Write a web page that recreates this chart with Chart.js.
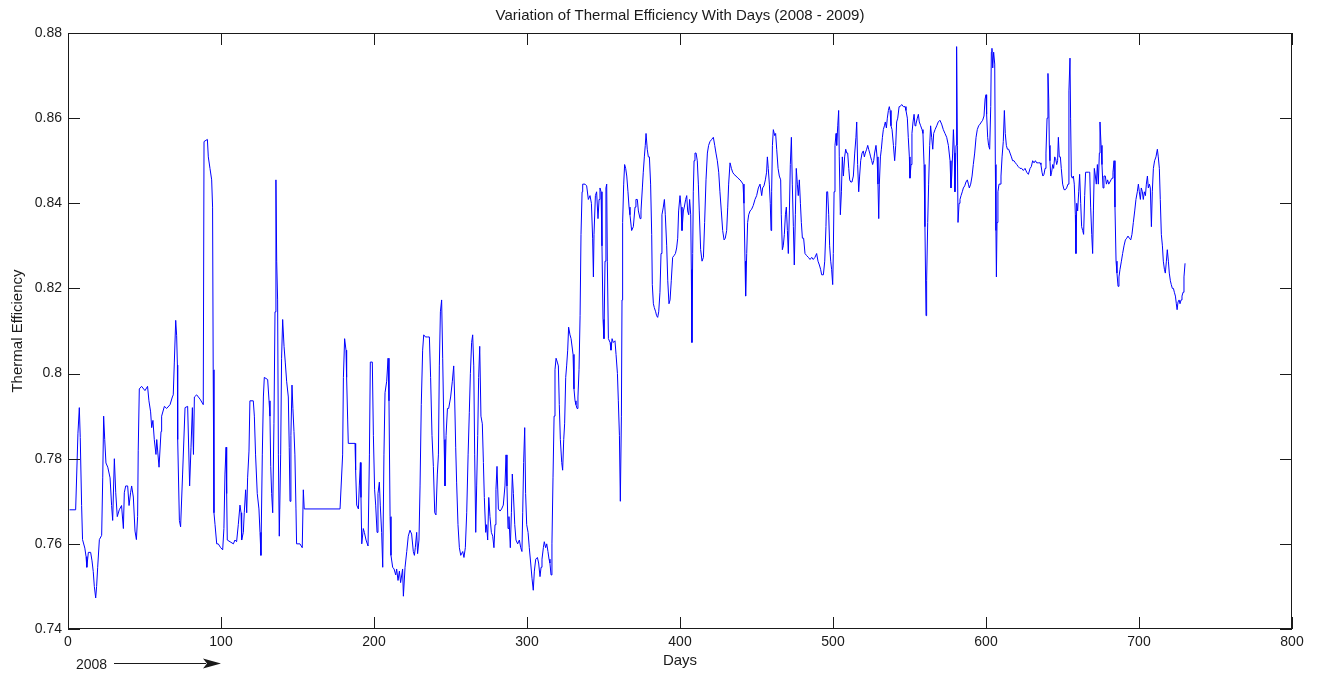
<!DOCTYPE html>
<html>
<head>
<meta charset="utf-8">
<script src="https://cdn.jsdelivr.net/npm/chart.js@4.4.1/dist/chart.umd.min.js"></script>
<style>
html, body { margin: 0; padding: 0; background: #fff; }
#wrap { width: 1317px; height: 673px; position: relative; }
</style>
</head>
<body>
<div id="wrap"><canvas id="effChart"></canvas></div>
<script>
// readings taken off the plot: [day, thermal efficiency]
const readings2008a = [
  [1,0.768],[5,0.768],[6.5,0.786],[7.4,0.792],[8,0.785],[8.9,0.769],[9.5,0.761],[11,0.759],[11.8,0.757],[12.3,0.7545],
  [13.3,0.758],[14.8,0.758],[15.7,0.756],[16.5,0.7535],[17.2,0.750],[18.1,0.7473],[18.7,0.750],[19.4,0.7545],[20.5,0.761],[22,0.762],
  [22.7,0.7755],[23.3,0.790],[24,0.7845],[24.8,0.779],[26,0.778],[27.5,0.7755],[28.5,0.769],[29.2,0.7655],[30.3,0.780],[31.2,0.772],
  [32.2,0.7664],[33.5,0.768],[35,0.769],[36.2,0.7636],[36.8,0.772],[37.7,0.7736],[39,0.7736],[39.9,0.769],[40.9,0.772],[41.6,0.7736],
  [42.7,0.771],[43.8,0.763],[44.7,0.761],[45.5,0.7664],[45.9,0.782],[46.6,0.7964],[48.1,0.797],[50.3,0.796],[52,0.797],[52.9,0.7936],
  [54,0.791],[54.7,0.7873],[55.5,0.789],[56.4,0.7845],[57.5,0.781],[58,0.7845],[59.5,0.778],[60.8,0.7864],[61.2,0.790],[63,0.7923],
  [64.5,0.7918],[66.7,0.7927],[68.2,0.7945],[68.8,0.795],[69.5,0.8027],[70.4,0.8125],[71,0.809],[71.5,0.802],[71.7,0.7845],[72.8,0.7655],
  [73.6,0.764],[74.9,0.7764],[76.5,0.792],[78.2,0.7923],[79.5,0.7736],[80.4,0.7827],[81.3,0.792],[82,0.781],[82.6,0.7945],[84.1,0.795],
  [86.3,0.794],[88.4,0.7927],[88.9,0.8545],[91.1,0.855],[91.7,0.8509],[92.8,0.8482],[93.9,0.8455],[94.5,0.8391],[94.9,0.8009],[95.4,0.7673],
  [96.1,0.7645],[97.2,0.760],[98.2,0.760],[99.8,0.7591],[101.1,0.7586],[101.9,0.7636],[102.6,0.7764],[103.3,0.7827],[103.7,0.7718],[104.1,0.7609],
  [105.9,0.7605],[108.1,0.760],[109.1,0.7609],[110.2,0.7605],[111.3,0.7645],[112.4,0.7691],[113.1,0.7673],[113.5,0.7609],[114.6,0.7627],[115.2,0.7673],
  [116.1,0.7727],[116.8,0.7673],[117.4,0.7755],[118.3,0.7818],[118.9,0.7936],[121.1,0.7936],[121.8,0.790],[122.6,0.7809],[123.7,0.7718],[124.8,0.7682],
  [125.5,0.7627],[126.1,0.7573],[127.0,0.7809],[127.7,0.7945],[128.3,0.7991],[130.5,0.7986],[131.4,0.7936],[132.0,0.790],[132.5,0.7782],[133.1,0.7718],
  [133.8,0.7673],[134.6,0.7882],[135.3,0.8145],[135.9,0.8455],[136.4,0.8264],[137.0,0.8173],[137.5,0.7809],[138.1,0.7618],[139.0,0.7809],[139.6,0.8036],
  [140.3,0.8127],[141.2,0.8064],[142.0,0.8027],[142.9,0.7982],[144.0,0.7945],[144.6,0.7827],[145.1,0.770],[145.7,0.7855],[146.4,0.7973],[147.0,0.7918],
  [147.7,0.7864],[148.3,0.7809],[149.0,0.7682],[149.4,0.760],[151.6,0.760],[153.1,0.7591],[153.8,0.7727],[154.4,0.7682],[177.8,0.7682]
]

const readings2008b = [
  [178.4,0.7682],[179.5,0.7809],[180.0,0.7991],[180.8,0.8082],[181.7,0.8055],[182.1,0.7991],[182.8,0.7891],[183.2,0.7836],[187.6,0.7836],[188.0,0.7773],
  [188.7,0.7691],[189.8,0.7682],[190.4,0.7736],[191.1,0.7791],[191.5,0.7709],[192.0,0.760],[193.0,0.7636],[193.7,0.7627],[194.8,0.7609],[196.1,0.7595],
  [197.0,0.7809],[197.6,0.8027],[198.9,0.8027],[199.6,0.7855],[200.4,0.7727],[201.1,0.7691],[202.0,0.7627],[202.6,0.7718],[203.5,0.7745],[204.1,0.7691],
  [205.0,0.7627],[205.7,0.7545],[206.5,0.7809],[207.2,0.7955],[208.3,0.7982],[209.2,0.8036],[209.8,0.7936],[210.5,0.7664],[211.1,0.7573],[212.2,0.7545],
  [213.1,0.7541],[214.2,0.7527],[214.8,0.7541],[215.7,0.7514],[216.6,0.7536],[217.4,0.7509],[218.7,0.7541],[219.2,0.7477],[220.3,0.7545],[221.4,0.7582],
  [222.4,0.7618],[223.5,0.7632],[224.6,0.7623],[225.7,0.7582],[226.4,0.7573],[227.0,0.7591],[227.9,0.7627],[228.5,0.7577],[229.4,0.7609],[230.1,0.7736],
  [230.9,0.7927],[231.8,0.8055],[232.5,0.8091],[233.6,0.8086],[234.9,0.8086],[236.2,0.8086],[237.0,0.7991],[237.9,0.7855],[238.8,0.7782],[239.7,0.7673],
  [240.5,0.7668],[241.4,0.7764],[242.1,0.7809],[242.7,0.8018],[243.4,0.8145],[244.2,0.8173],[244.9,0.8036],[245.8,0.7845],[246.4,0.7736],[247.1,0.7855],
  [248.0,0.7918],[248.8,0.7918],[250.1,0.7945],[251.2,0.7982],[252.1,0.8018],[252.7,0.7945],[253.4,0.7827],[254.0,0.7745],[254.9,0.7645],[255.8,0.7591],
  [256.7,0.7573],[258.0,0.7582],[258.8,0.7568],[259.7,0.7591],[260.6,0.7673],[261.5,0.7809],[262.3,0.7909],[263.0,0.800],[263.8,0.8073],[264.5,0.8091],
  [265.2,0.8018],[265.8,0.7809],[266.5,0.7627],[267.1,0.7736],[267.8,0.7855],[268.4,0.7991],[269.1,0.8064],[269.9,0.790],[270.8,0.7882],[271.5,0.7791],
  [272.1,0.7709],[273.0,0.7627],[273.6,0.7645],[274.3,0.7609],[275.0,0.7709],[275.8,0.7664],[276.7,0.7627],[277.6,0.7618],[278.4,0.7591],[279.1,0.7645],
  [279.7,0.7727],[280.4,0.7782],[281.3,0.7682],[282.4,0.7677],[283.4,0.7682],[284.5,0.7691],[285.6,0.7736],[286.3,0.7809],[286.9,0.7736],[287.6,0.7636],
  [288.2,0.7664],[289.1,0.7591],[289.8,0.7673],[290.4,0.7764],[291.1,0.7718],[292.0,0.7645],[292.8,0.7609],[293.9,0.760],[295.0,0.7609],[295.9,0.7591],
  [296.7,0.7582],[297.2,0.7673],[297.8,0.7791],[298.5,0.7873],[299.1,0.7718],[299.8,0.7645],[300.7,0.7627],[301.5,0.7591],[302.4,0.7555],[303.3,0.7518],
  [304.1,0.7491],[304.8,0.7536],[305.7,0.7564],[306.8,0.7568],[307.6,0.7555],[308.5,0.7523],[309.2,0.7545],[309.8,0.7564],[310.7,0.7591],[311.3,0.7605],
  [312.2,0.7591],[312.9,0.760],[313.7,0.7582],[314.4,0.7564],[315.0,0.7555],[315.7,0.7527],[316.3,0.760],[317.0,0.7755],[317.7,0.790],[318.3,0.8009],
  [319.0,0.8036],[319.8,0.8027],[320.5,0.8018],[321.1,0.7927],[321.8,0.7845],[322.7,0.7791],[323.3,0.7773],[324.0,0.7845],[324.6,0.7882],[325.3,0.7991],
  [325.9,0.8018],[326.6,0.8055],[327.2,0.8109],[328.1,0.8091],[328.8,0.8082],[329.4,0.8082],[330.1,0.8045],[330.7,0.7964],[331.4,0.7936],[332.0,0.7927],
  [332.7,0.7918],[333.3,0.7945],[334.0,0.8009],[334.7,0.8136],[335.3,0.8327],[336.0,0.8427],[336.4,0.8445],[337.9,0.8445],[339.0,0.8441],[340.1,0.8409],
  [341.2,0.8418],[342.1,0.840],[342.9,0.8318],[343.4,0.8227],[343.8,0.8327],[344.7,0.8418],[345.5,0.8427],[346.4,0.8364],[347.1,0.8409],[347.7,0.8436],
  [348.4,0.8427],[349.0,0.830],[349.7,0.8127],[350.3,0.8082],[351.0,0.8264],[351.6,0.8436],[352.1,0.8445],[352.5,0.8264],[353.2,0.8082],[354.3,0.8073],
  [354.9,0.8055],[355.6,0.8082],[356.4,0.8073],[357.5,0.8077],[358.2,0.8045],[359.1,0.800],[359.7,0.7936],[360.4,0.7855],[361.0,0.770],[361.7,0.790],
  [362.1,0.8173],[362.5,0.8355],[363.2,0.8445],[363.8,0.8491],[364.5,0.8482],[365.2,0.8464]
]

const readings2009a = [
  [366.0,0.8427],[366.7,0.8391],[367.3,0.8373],[368.4,0.8336],[369.5,0.8345],[370.6,0.8391],[371.2,0.8409],[372.1,0.8409],[372.8,0.8382],[373.9,0.8364],
  [374.5,0.8382],[375.4,0.8436],[376.0,0.8473],[376.7,0.8509],[377.3,0.8536],[377.8,0.8564],[378.6,0.8527],[379.3,0.8509],[380.0,0.8509],[380.8,0.8445],
  [381.5,0.8327],[381.9,0.8209],[382.6,0.8164],[383.2,0.8155],[384.1,0.8145],[384.7,0.8136],[385.4,0.8132],[386.1,0.8145],[386.9,0.8191],[387.6,0.8282],
  [388.2,0.8373],[389.1,0.8391],[389.8,0.8409],[390.4,0.8373],[391.3,0.830],[392.0,0.8218],[392.8,0.8164],[393.5,0.8173],[394.3,0.8218],[395.2,0.8273],
  [396.1,0.8277],[397.0,0.8282],[397.8,0.8295],[398.5,0.8318],[399.1,0.8382],[400.0,0.8418],[400.7,0.8391],[401.3,0.8336],[402.2,0.8382],[402.8,0.8391],
  [403.7,0.8409],[404.4,0.8418],[405.0,0.8382],[405.7,0.8373],[406.3,0.8409],[407.0,0.8373],[407.4,0.8245],[407.8,0.8073],[408.3,0.8282],[408.7,0.8427],
  [409.2,0.850],[409.8,0.8518],[410.5,0.8518],[411.3,0.850],[412.0,0.8445],[412.6,0.8382],[413.5,0.8291],[414.4,0.8264],[415.3,0.8273],[416.1,0.8355],
  [417.0,0.8455],[417.9,0.8518],[418.7,0.8536],[419.6,0.8545],[420.7,0.855],[421.8,0.8555],[422.7,0.8536],[423.5,0.8518],[424.4,0.850],[425.3,0.8473],
  [426.1,0.8427],[427.0,0.8382],[427.9,0.8336],[428.8,0.8314],[429.6,0.8318],[430.5,0.8336],[431.2,0.8391],[431.8,0.8445],[432.7,0.8495],[433.6,0.8482],
  [434.4,0.8473],[435.3,0.8468],[436.6,0.8464],[437.9,0.8459],[439.2,0.8455],[440.3,0.845],[441.2,0.8445],[441.8,0.840],[442.5,0.8264],[442.9,0.8182],
  [443.6,0.8282],[444.2,0.8355],[444.9,0.8373],[445.8,0.8382],[446.8,0.8386],[447.9,0.8395],[449.0,0.8409],[450.1,0.8418],[451.2,0.8436],[452.3,0.8445],
  [453.4,0.8418],[454.0,0.8436],[454.9,0.8441],[455.8,0.8455],[456.6,0.8473],[457.1,0.8509],[457.7,0.8482],[458.4,0.8445],[459.0,0.840],[459.5,0.8336],
  [459.9,0.8427],[460.4,0.8536],[461.0,0.8573],[461.9,0.8559],[462.5,0.8564],[463.2,0.8527],[464.1,0.8482],[464.9,0.8464],[465.8,0.8455],[466.2,0.8373],
  [466.9,0.8291],[467.5,0.830],[468.2,0.8327],[468.9,0.8373],[469.5,0.8391],[470.2,0.8336],[470.8,0.8282],[471.5,0.8382],[472.1,0.8491],[472.8,0.8555],
  [473.4,0.8445],[474.1,0.8345],[474.7,0.8255],[475.4,0.8373],[476.0,0.8482],[476.7,0.8445],[477.3,0.8418],[478.0,0.8455],[478.7,0.840],[479.3,0.8355],
  [480.0,0.8318],[480.8,0.8318],[481.7,0.8282],[482.8,0.8277],[483.9,0.8273],[485.0,0.8268],[486.1,0.8273],[487.1,0.8268],[488.2,0.8273],[489.3,0.8282],
  [490.2,0.8264],[491.1,0.8255],[491.9,0.8245],[492.6,0.8232],[493.7,0.8232],[494.6,0.8264],[495.4,0.8345],[495.9,0.8427],[496.5,0.8427],[497.2,0.8373],
  [497.8,0.830],[498.5,0.8264],[499.1,0.8245],[499.8,0.8209],[500.2,0.8282],[500.7,0.8427],[501.3,0.8536],[502.0,0.8564],[502.4,0.8536],[503.1,0.8582],
  [503.7,0.8618],[504.1,0.8509],[504.8,0.8373],[505.5,0.8427],[506.1,0.8509],[506.8,0.8464],[507.6,0.8509],[508.3,0.8527],[509.0,0.8518],[509.6,0.8518],
  [510.3,0.8482],[510.9,0.8455],[511.6,0.845],[512.4,0.845],[513.3,0.8464],[514.2,0.8518],[515.0,0.8555],[515.5,0.8591],[516.1,0.8491],[516.8,0.8427],
  [517.4,0.8464],[518.1,0.850],[519.0,0.8518],[519.8,0.8523],[520.5,0.8509],[521.1,0.8518],[522.0,0.8527],[522.7,0.8536],[523.3,0.8527],[524.0,0.8518],
  [524.6,0.8509],[525.3,0.850],[525.9,0.8491],[526.6,0.850],[527.2,0.8518],[528.1,0.8536],[528.8,0.8509],[529.4,0.8445],[529.9,0.8364],[530.3,0.8445],
  [531.0,0.8509],[531.6,0.8527],[532.3,0.8555],[532.9,0.8573],[533.6,0.8582],[534.2,0.8591],[534.9,0.8577],[535.5,0.860],[536.2,0.8618],[536.8,0.8627],
  [537.3,0.8618],[537.9,0.8582],[538.6,0.8573],[539.5,0.8536],[540.3,0.850],[541.0,0.8536],[541.6,0.8591],[542.3,0.860],[543.2,0.8627]
]

const readings2009b = [
  [543.8,0.8627],[544.9,0.8632],[546.0,0.8627],[547.1,0.8627],[547.7,0.8618],[548.6,0.860],[549.2,0.8555],[549.9,0.8509],[550.3,0.8459],[551.0,0.8491],
  [551.6,0.8564],[552.3,0.8591],[553.0,0.8609],[553.6,0.8582],[554.2,0.8586],[555.1,0.860],[555.8,0.8609],[556.4,0.8591],[557.3,0.8582],[558.2,0.8573],
  [558.8,0.8564],[559.5,0.8491],[560.1,0.8345],[560.8,0.8136],[561.2,0.8218],[561.9,0.8355],[562.5,0.8445],[563.2,0.8536],[563.8,0.8582],[564.5,0.8555],
  [565.2,0.8527],[565.8,0.8564],[566.7,0.8573],[567.8,0.8582],[568.8,0.8591],[569.9,0.8595],[571.0,0.8586],[572.1,0.8573],[573.2,0.8564],[574.3,0.8555],
  [575.4,0.8536],[576.5,0.850],[577.1,0.8436],[577.6,0.8464],[578.2,0.8518],[578.7,0.8573],[579.3,0.8518],[579.7,0.8427],[580.4,0.8536],[580.8,0.8768],
  [581.3,0.8536],[581.7,0.8355],[582.4,0.840],[583.0,0.8409],[583.7,0.8418],[584.5,0.8427],[585.2,0.8436],[586.1,0.8441],[586.9,0.845],[587.8,0.8455],
  [588.5,0.8445],[589.1,0.8436],[590.0,0.8445],[590.9,0.8464],[591.7,0.8491],[592.6,0.8518],[593.5,0.8555],[594.3,0.8573],[595.2,0.8582],[596.1,0.8586],
  [597.0,0.8591],[597.8,0.8595],[598.7,0.8605],[599.4,0.8645],[600.0,0.8655],[600.4,0.8609],[601.1,0.8555],[601.7,0.8536],[602.4,0.8527],[603.1,0.8627],
  [603.5,0.8755],[603.9,0.8764],[604.4,0.8718],[605.0,0.8755],[605.7,0.8727],[606.1,0.8491],[606.5,0.8336],[606.8,0.8227],[607.2,0.8355],[607.8,0.8427],
  [608.5,0.8445],[609.2,0.8445],[609.8,0.8464],[610.5,0.8509],[611.3,0.8545],[612.0,0.8618],[612.6,0.8564],[613.3,0.8536],[614.0,0.8527],[614.8,0.8527],
  [615.7,0.8518],[616.6,0.8509],[617.4,0.850],[618.3,0.850],[619.2,0.8495],[620.1,0.8491],[621.1,0.8486],[622.2,0.8482],[623.3,0.8482],[624.4,0.8477],
  [625.5,0.8482],[626.6,0.8473],[627.7,0.8468],[628.8,0.8482],[629.6,0.8486],[630.5,0.850],[631.4,0.8495],[632.3,0.850],[633.1,0.8495],[634.2,0.8495],
  [635.3,0.8495],[635.9,0.8491],[636.6,0.8473],[637.2,0.8464],[637.9,0.8468],[638.6,0.8482],[639.2,0.8518],[639.9,0.860],[640.5,0.8705],[641.0,0.8645],
  [641.4,0.8536],[641.8,0.850],[642.3,0.8464],[642.9,0.8473],[643.6,0.8491],[644.2,0.8482],[644.9,0.8509],[645.5,0.8505],[646.2,0.8491],[646.8,0.850],
  [647.3,0.8555],[647.9,0.8509],[648.6,0.8509],[649.2,0.8482],[650.1,0.8445],[651.0,0.8432],[651.9,0.8432],[652.7,0.8436],[653.6,0.8445],[654.2,0.8664],
  [654.9,0.8741],[655.3,0.860],[655.8,0.8464],[656.4,0.8459],[657.1,0.8464],[657.7,0.8445],[658.4,0.8373],[658.8,0.8282],[659.3,0.840],[659.9,0.8382],
  [660.6,0.8427],[661.2,0.8468],[661.9,0.840],[662.5,0.8345],[663.2,0.8336],[663.8,0.8327],[664.5,0.8418],[665.1,0.8473],[666.0,0.8473],[666.9,0.8473],
  [667.8,0.8473],[668.4,0.8391],[669.1,0.8327],[669.7,0.8282],[670.2,0.8382],[670.8,0.8482],[671.5,0.8464],[672.1,0.8445],[672.8,0.8491],[673.4,0.8445],
  [674.1,0.8518],[674.5,0.8591],[675.2,0.8536],[675.8,0.8491],[676.5,0.8436],[677.1,0.8464],[678.0,0.8464],[678.7,0.8445],[679.5,0.8455],[680.2,0.8445],
  [681.0,0.845],[681.7,0.8455],[682.4,0.8459],[683.0,0.8473],[683.7,0.850],[684.3,0.8391],[685.0,0.8264],[685.6,0.8236],[686.3,0.8205],[686.9,0.8227],
  [687.6,0.8245],[688.5,0.8264],[689.3,0.8282],[690.2,0.830],[691.1,0.8314],[692.0,0.8318],[692.8,0.8323],[693.7,0.8318],[694.6,0.8314],[695.4,0.8327],
  [696.3,0.8355],[697.2,0.8382],[698.0,0.8409],[698.9,0.8427],[699.6,0.8445],[700.2,0.8427],[700.9,0.8409],[701.5,0.8436],[702.2,0.8427],[702.8,0.8409],
  [703.5,0.8427],[704.2,0.8418],[704.8,0.8445],[705.5,0.8464],[706.1,0.8436],[706.8,0.8445],[707.4,0.8436],[708.1,0.8345],[708.7,0.8427],[709.4,0.8482],
  [710.2,0.850],[711.1,0.8509],[712.0,0.8527],[712.6,0.8509],[713.3,0.8482],[713.9,0.8409],[714.6,0.8327],[715.3,0.830],[715.9,0.8264],[716.6,0.8245],
  [717.2,0.8236],[717.9,0.8264],[718.5,0.8291],[719.2,0.8264],[719.8,0.8236],[720.5,0.8218],[721.1,0.8209],[721.8,0.820],[722.5,0.820],[723.1,0.8191],
  [723.8,0.8182],[724.4,0.8164],[724.9,0.815],[725.5,0.8168],[726.2,0.8173],[726.8,0.8164],[727.5,0.8173],[728.1,0.8182],[728.8,0.8191],[729.4,0.8227],
  [730.1,0.8259]
]

const xTicks = [0, 100, 200, 300, 400, 500, 600, 700, 800]
const yTicks = [0.74, 0.76, 0.78, 0.8, 0.82, 0.84, 0.86, 0.88]

const titleText = 'Variation of Thermal Efficiency With Days (2008 - 2009)'
const xTitle = 'Days'
const yTitle = 'Thermal Efficiency'
const yearNote = '2008'

const allReadings = readings2008a.concat(readings2008b, readings2009a, readings2009b)
const chartData = {
    datasets: [{
        label: 'Thermal Efficiency',
        data: allReadings.map(r => ({x: r[0], y: r[1]})),
        borderColor: '#0000ff',
        borderWidth: 1,
        pointRadius: 0,
        tension: 0
    }]
}

const ink = '#1a1a1a'
const font = 'Arial, "Liberation Sans", Helvetica, sans-serif'

// frame, inward ticks on all sides, titles and the 2008 arrow, matlab style
const matlabFrame = {
    id: 'matlabFrame',
    afterDraw(chart) {
        const {ctx, chartArea: a, scales: {x, y}} = chart
        ctx.save()
        ctx.strokeStyle = ink
        ctx.lineWidth = 1
        ctx.strokeRect(a.left + 0.5, a.top + 0.5, a.right - a.left - 1, a.bottom - a.top - 1)

        ctx.beginPath()
        xTicks.forEach(v => {
            const px = Math.round(x.getPixelForValue(v)) + 0.5
            ctx.moveTo(px, a.bottom); ctx.lineTo(px, a.bottom - 12)
            ctx.moveTo(px, a.top); ctx.lineTo(px, a.top + 12)
        })
        yTicks.forEach(v => {
            const py = Math.round(y.getPixelForValue(v)) + 0.5
            ctx.moveTo(a.left, py); ctx.lineTo(a.left + 12, py)
            ctx.moveTo(a.right, py); ctx.lineTo(a.right - 12, py)
        })
        ctx.stroke()

        ctx.fillStyle = ink
        ctx.textAlign = 'center'
        ctx.textBaseline = 'middle'
        ctx.font = '15px ' + font
        ctx.fillText(titleText, (a.left + a.right) / 2, 16)
        ctx.fillText(xTitle, (a.left + a.right) / 2, 661)

        ctx.save()
        ctx.translate(18, (a.top + a.bottom) / 2)
        ctx.rotate(-Math.PI / 2)
        ctx.fillText(yTitle, 0, 0)
        ctx.restore()

        ctx.font = '14px ' + font
        ctx.textAlign = 'left'
        ctx.fillText(yearNote, 76, 665)
        ctx.beginPath()
        ctx.moveTo(114, 663.5); ctx.lineTo(206, 663.5)
        ctx.stroke()
        ctx.beginPath()
        ctx.moveTo(221, 663.5); ctx.lineTo(203, 658.5); ctx.lineTo(207, 663.5); ctx.lineTo(203, 668.5)
        ctx.closePath()
        ctx.fill()
        ctx.restore()
    }
}

const ctx = document.getElementById('effChart')
new Chart(ctx, {
    type: 'line',
    data: chartData,
    options: {
        responsive: true,
        maintainAspectRatio: false,
        devicePixelRatio: 1,
        animation: false,
        layout: {padding: {left: 0, top: 33, right: 25, bottom: 0}},
        plugins: {legend: {display: false}, tooltip: {enabled: false}},
        scales: {
            x: {
                type: 'linear',
                min: 0,
                max: 800,
                afterFit: s => { s.height = 44 },
                afterBuildTicks: s => { s.ticks = xTicks.map(v => ({value: v})) },
                grid: {display: false, drawTicks: false},
                border: {display: false},
                ticks: {padding: 5, color: ink, font: {family: font, size: 14}, maxRotation: 0}
            },
            y: {
                min: 0.74,
                max: 0.88,
                afterFit: s => { s.width = 68 },
                afterBuildTicks: s => { s.ticks = yTicks.map(v => ({value: v})) },
                grid: {display: false, drawTicks: false},
                border: {display: false},
                ticks: {
                    padding: 6, color: ink, font: {family: font, size: 14},
                    callback: v => String(+v.toFixed(2))
                }
            }
        }
    },
    plugins: [matlabFrame]
})
</script>
</body>
</html>
